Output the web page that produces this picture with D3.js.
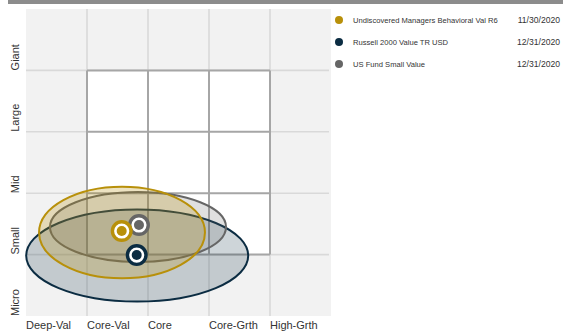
<!DOCTYPE html>
<html><head><meta charset="utf-8">
<script src="https://cdn.jsdelivr.net/npm/d3@7"></script>
<style>body{margin:0;background:#fff;}svg{display:block;font-family:"Liberation Sans",Arial,sans-serif;}</style>
</head><body>
<script>
const xLabels = ["Deep-Val","Core-Val","Core","Core-Grth","High-Grth"];
const yLabels = ["Micro","Small","Mid","Large","Giant"];
const seriesNames = ["Undiscovered Managers Behavioral Val R6","Russell 2000 Value TR USD","US Fund Small Value"];
const seriesDates = ["11/30/2020","12/31/2020","12/31/2020"];
const seriesColors = ["#b8900a","#0b2c42","#666666"];
// centroid position (style score, size score)
const pointX = [1.569, 1.815, 1.852];
const pointY = [1.384, 0.993, 1.482];
// ownership zone ellipse
const zoneX = [1.574, 1.823, 1.836];
const zoneY = [1.36, 0.985, 1.45];
const zoneRX = [1.36, 1.82, 1.443];
const zoneRY = [0.746, 0.75, 0.57];
const styleBox = [1, 4]; // core box extent in both axes

const W = 563, H = 336;
const svg = d3.select("body").append("svg").attr("width", W).attr("height", H);

svg.append("rect").attr("x", 8).attr("y", 0).attr("width", W - 8).attr("height", 4).attr("fill", "#8c8c8c");

const x = d3.scaleLinear().domain([0, 5]).range([26, 331]);
const y = d3.scaleLinear().domain([0, 5]).range([316, 9]);
const ticks = [1, 2, 3, 4];

const g = svg.append("g");
g.append("rect").attr("x", x(0)).attr("y", y(5)).attr("width", x(5) - x(0)).attr("height", y(0) - y(5)).attr("fill", "#f2f2f2");
// light grid
g.selectAll(".vl").data(ticks).join("line").attr("x1", d => x(d)).attr("x2", d => x(d))
  .attr("y1", y(5)).attr("y2", y(0)).attr("stroke", "#d9d9d9").attr("stroke-width", 1.6);
g.selectAll(".hl").data(ticks).join("line").attr("y1", d => y(d)).attr("y2", d => y(d))
  .attr("x1", x(0)).attr("x2", x(5) - 2).attr("stroke", "#d9d9d9").attr("stroke-width", 1.6);
// style box
const b0 = styleBox[0], b1 = styleBox[1];
g.append("rect").attr("x", x(b0)).attr("y", y(b1)).attr("width", x(b1) - x(b0)).attr("height", y(b0) - y(b1)).attr("fill", "#fff");
const bt = d3.range(b0, b1 + 1);
g.selectAll(".bv").data(bt).join("line").attr("x1", d => x(d)).attr("x2", d => x(d))
  .attr("y1", y(b1)).attr("y2", y(b0)).attr("stroke", "#a6a6a6").attr("stroke-width", 2);
g.selectAll(".bh").data(bt).join("line").attr("y1", d => y(d)).attr("y2", d => y(d))
  .attr("x1", x(b0)).attr("x2", x(b1)).attr("stroke", "#a6a6a6").attr("stroke-width", 2);

// axis labels
g.selectAll(".xl").data(xLabels).join("text").attr("x", (d, i) => x(i)).attr("y", 329)
  .attr("font-size", 11).attr("fill", "#333").text(d => d);
g.selectAll(".yl").data(yLabels).join("text")
  .attr("transform", (d, i) => `translate(19,${y(i)}) rotate(-90)`)
  .attr("font-size", 11).attr("fill", "#333").text(d => d);

// ellipses
const order = [1, 2, 0];
const sx = x(1) - x(0), sy = y(0) - y(1);
g.selectAll(".zone").data(order).join("ellipse")
  .attr("cx", i => x(zoneX[i])).attr("cy", i => y(zoneY[i]))
  .attr("rx", i => zoneRX[i] * sx).attr("ry", i => zoneRY[i] * sy)
  .attr("fill", i => seriesColors[i]).attr("fill-opacity", i => i === 0 ? 0.25 : 0.2)
  .attr("stroke", i => seriesColors[i]).attr("stroke-width", 2);

// points
const pOrder = [2, 1, 0];
const pts = g.selectAll(".pt").data(pOrder).join("g")
  .attr("transform", i => `translate(${x(pointX[i])},${y(pointY[i])})`);
pts.append("circle").attr("r", 9.3).attr("fill", "#fff").attr("stroke", i => seriesColors[i]).attr("stroke-width", 3.4);
pts.append("circle").attr("r", 5).attr("fill", i => seriesColors[i]);

// legend
const lg = svg.selectAll(".lg").data(seriesNames).join("g")
  .attr("transform", (d, i) => `translate(0,${20 + i * 22})`);
lg.append("circle").attr("cx", 339).attr("cy", 0).attr("r", 4).attr("fill", (d, i) => seriesColors[i]);
lg.append("text").attr("x", 353).attr("y", 2.8).attr("font-size", 7.6).attr("fill", "#333").text(d => d);
lg.append("text").attr("x", 560).attr("y", 3).attr("text-anchor", "end").attr("font-size", 8.6).attr("fill", "#333")
  .text((d, i) => seriesDates[i]);
</script>
</body></html>
